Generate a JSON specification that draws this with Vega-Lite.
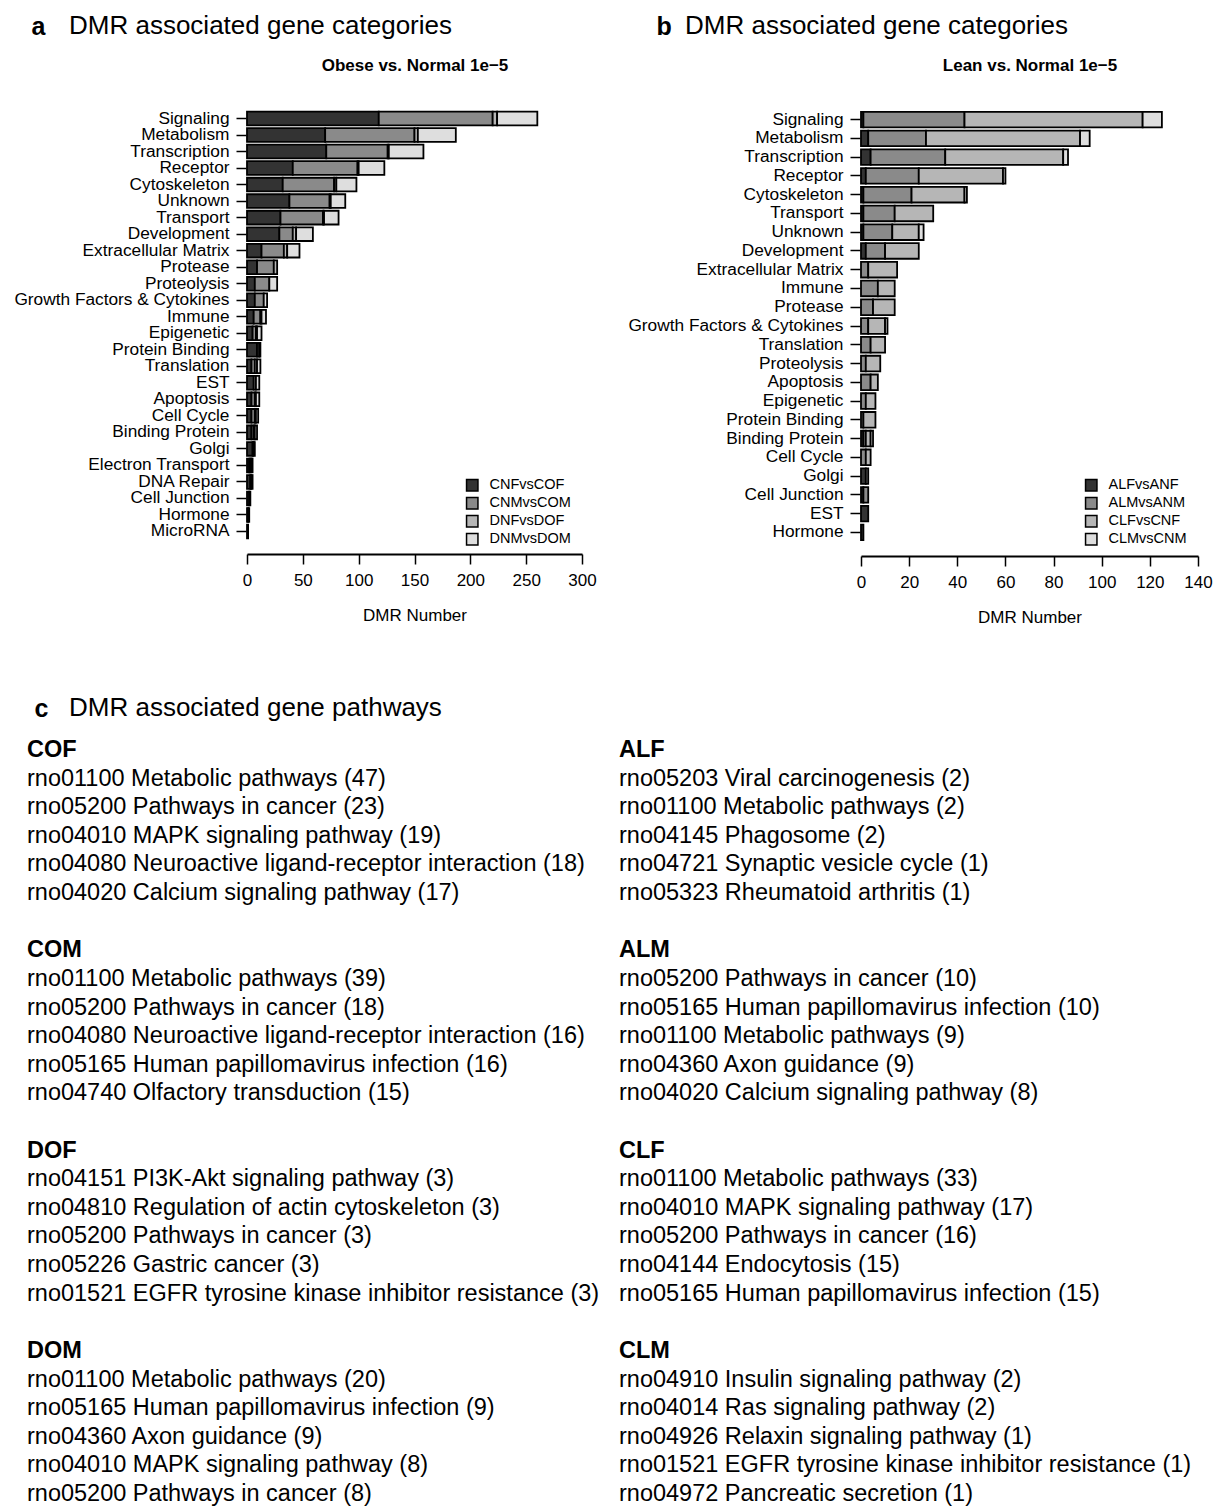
{
  "$schema": "https://vega.github.io/schema/vega-lite/v6.json",
  "background": "white",
  "padding": {"left": 13, "top": 13, "right": 0, "bottom": 0},
  "config": {
    "font": "Liberation Sans",
    "view": {"stroke": null},
    "axis": {"labelColor": "black", "titleColor": "black", "tickColor": "black", "domainColor": "black", "grid": false, "labelFont": "Liberation Sans", "titleFont": "Liberation Sans"},
    "title": {"color": "black", "font": "Liberation Sans"},
    "legend": {"labelColor": "black", "labelFont": "Liberation Sans"}
  },
  "datasets": {
    "obese": [
      {"category": "Signaling", "comparison": "CNFvsCOF", "n": 118},
      {"category": "Signaling", "comparison": "CNMvsCOM", "n": 102},
      {"category": "Signaling", "comparison": "DNFvsDOF", "n": 4},
      {"category": "Signaling", "comparison": "DNMvsDOM", "n": 36},
      {"category": "Metabolism", "comparison": "CNFvsCOF", "n": 70},
      {"category": "Metabolism", "comparison": "CNMvsCOM", "n": 80},
      {"category": "Metabolism", "comparison": "DNFvsDOF", "n": 3},
      {"category": "Metabolism", "comparison": "DNMvsDOM", "n": 34},
      {"category": "Transcription", "comparison": "CNFvsCOF", "n": 71},
      {"category": "Transcription", "comparison": "CNMvsCOM", "n": 55},
      {"category": "Transcription", "comparison": "DNFvsDOF", "n": 1},
      {"category": "Transcription", "comparison": "DNMvsDOM", "n": 31},
      {"category": "Receptor", "comparison": "CNFvsCOF", "n": 41},
      {"category": "Receptor", "comparison": "CNMvsCOM", "n": 58},
      {"category": "Receptor", "comparison": "DNFvsDOF", "n": 1},
      {"category": "Receptor", "comparison": "DNMvsDOM", "n": 23},
      {"category": "Cytoskeleton", "comparison": "CNFvsCOF", "n": 32},
      {"category": "Cytoskeleton", "comparison": "CNMvsCOM", "n": 46},
      {"category": "Cytoskeleton", "comparison": "DNFvsDOF", "n": 2},
      {"category": "Cytoskeleton", "comparison": "DNMvsDOM", "n": 18},
      {"category": "Unknown", "comparison": "CNFvsCOF", "n": 38},
      {"category": "Unknown", "comparison": "CNMvsCOM", "n": 36},
      {"category": "Unknown", "comparison": "DNFvsDOF", "n": 1},
      {"category": "Unknown", "comparison": "DNMvsDOM", "n": 13},
      {"category": "Transport", "comparison": "CNFvsCOF", "n": 30},
      {"category": "Transport", "comparison": "CNMvsCOM", "n": 38},
      {"category": "Transport", "comparison": "DNFvsDOF", "n": 1},
      {"category": "Transport", "comparison": "DNMvsDOM", "n": 13},
      {"category": "Development", "comparison": "CNFvsCOF", "n": 29},
      {"category": "Development", "comparison": "CNMvsCOM", "n": 12},
      {"category": "Development", "comparison": "DNFvsDOF", "n": 3},
      {"category": "Development", "comparison": "DNMvsDOM", "n": 15},
      {"category": "Extracellular Matrix", "comparison": "CNFvsCOF", "n": 13},
      {"category": "Extracellular Matrix", "comparison": "CNMvsCOM", "n": 20},
      {"category": "Extracellular Matrix", "comparison": "DNFvsDOF", "n": 3},
      {"category": "Extracellular Matrix", "comparison": "DNMvsDOM", "n": 11},
      {"category": "Protease", "comparison": "CNFvsCOF", "n": 9},
      {"category": "Protease", "comparison": "CNMvsCOM", "n": 15},
      {"category": "Protease", "comparison": "DNFvsDOF", "n": 3},
      {"category": "Proteolysis", "comparison": "CNFvsCOF", "n": 7},
      {"category": "Proteolysis", "comparison": "CNMvsCOM", "n": 13},
      {"category": "Proteolysis", "comparison": "DNMvsDOM", "n": 7},
      {"category": "Growth Factors & Cytokines", "comparison": "CNFvsCOF", "n": 7},
      {"category": "Growth Factors & Cytokines", "comparison": "CNMvsCOM", "n": 8},
      {"category": "Growth Factors & Cytokines", "comparison": "DNMvsDOM", "n": 3},
      {"category": "Immune", "comparison": "CNFvsCOF", "n": 6},
      {"category": "Immune", "comparison": "CNMvsCOM", "n": 6},
      {"category": "Immune", "comparison": "DNFvsDOF", "n": 1},
      {"category": "Immune", "comparison": "DNMvsDOM", "n": 4},
      {"category": "Epigenetic", "comparison": "CNFvsCOF", "n": 5},
      {"category": "Epigenetic", "comparison": "CNMvsCOM", "n": 3},
      {"category": "Epigenetic", "comparison": "DNFvsDOF", "n": 1},
      {"category": "Epigenetic", "comparison": "DNMvsDOM", "n": 4},
      {"category": "Protein Binding", "comparison": "CNFvsCOF", "n": 9},
      {"category": "Protein Binding", "comparison": "CNMvsCOM", "n": 2},
      {"category": "Protein Binding", "comparison": "DNMvsDOM", "n": 1},
      {"category": "Translation", "comparison": "CNFvsCOF", "n": 4},
      {"category": "Translation", "comparison": "CNMvsCOM", "n": 3},
      {"category": "Translation", "comparison": "DNFvsDOF", "n": 2},
      {"category": "Translation", "comparison": "DNMvsDOM", "n": 3},
      {"category": "EST", "comparison": "CNFvsCOF", "n": 6},
      {"category": "EST", "comparison": "CNMvsCOM", "n": 2},
      {"category": "EST", "comparison": "DNMvsDOM", "n": 3},
      {"category": "Apoptosis", "comparison": "CNFvsCOF", "n": 4},
      {"category": "Apoptosis", "comparison": "CNMvsCOM", "n": 3},
      {"category": "Apoptosis", "comparison": "DNFvsDOF", "n": 1},
      {"category": "Apoptosis", "comparison": "DNMvsDOM", "n": 3},
      {"category": "Cell Cycle", "comparison": "CNFvsCOF", "n": 4},
      {"category": "Cell Cycle", "comparison": "CNMvsCOM", "n": 3},
      {"category": "Cell Cycle", "comparison": "DNFvsDOF", "n": 1},
      {"category": "Cell Cycle", "comparison": "DNMvsDOM", "n": 2},
      {"category": "Binding Protein", "comparison": "CNFvsCOF", "n": 4},
      {"category": "Binding Protein", "comparison": "CNMvsCOM", "n": 2},
      {"category": "Binding Protein", "comparison": "DNFvsDOF", "n": 1},
      {"category": "Binding Protein", "comparison": "DNMvsDOM", "n": 2},
      {"category": "Golgi", "comparison": "CNFvsCOF", "n": 5},
      {"category": "Golgi", "comparison": "CNMvsCOM", "n": 1},
      {"category": "Golgi", "comparison": "DNMvsDOM", "n": 1},
      {"category": "Electron Transport", "comparison": "CNFvsCOF", "n": 2},
      {"category": "Electron Transport", "comparison": "CNMvsCOM", "n": 1},
      {"category": "Electron Transport", "comparison": "DNFvsDOF", "n": 1},
      {"category": "Electron Transport", "comparison": "DNMvsDOM", "n": 1},
      {"category": "DNA Repair", "comparison": "CNFvsCOF", "n": 3},
      {"category": "DNA Repair", "comparison": "CNMvsCOM", "n": 1},
      {"category": "DNA Repair", "comparison": "DNMvsDOM", "n": 1},
      {"category": "Cell Junction", "comparison": "CNFvsCOF", "n": 2},
      {"category": "Cell Junction", "comparison": "CNMvsCOM", "n": 1},
      {"category": "Hormone", "comparison": "CNFvsCOF", "n": 1},
      {"category": "Hormone", "comparison": "CNMvsCOM", "n": 1},
      {"category": "MicroRNA", "comparison": "CNFvsCOF", "n": 1}
    ],
    "lean": [
      {"category": "Signaling", "comparison": "ALFvsANF", "n": 1},
      {"category": "Signaling", "comparison": "ALMvsANM", "n": 42},
      {"category": "Signaling", "comparison": "CLFvsCNF", "n": 74},
      {"category": "Signaling", "comparison": "CLMvsCNM", "n": 8},
      {"category": "Metabolism", "comparison": "ALFvsANF", "n": 3},
      {"category": "Metabolism", "comparison": "ALMvsANM", "n": 24},
      {"category": "Metabolism", "comparison": "CLFvsCNF", "n": 64},
      {"category": "Metabolism", "comparison": "CLMvsCNM", "n": 4},
      {"category": "Transcription", "comparison": "ALFvsANF", "n": 4},
      {"category": "Transcription", "comparison": "ALMvsANM", "n": 31},
      {"category": "Transcription", "comparison": "CLFvsCNF", "n": 49},
      {"category": "Transcription", "comparison": "CLMvsCNM", "n": 2},
      {"category": "Receptor", "comparison": "ALFvsANF", "n": 2},
      {"category": "Receptor", "comparison": "ALMvsANM", "n": 22},
      {"category": "Receptor", "comparison": "CLFvsCNF", "n": 35},
      {"category": "Receptor", "comparison": "CLMvsCNM", "n": 1},
      {"category": "Cytoskeleton", "comparison": "ALFvsANF", "n": 1},
      {"category": "Cytoskeleton", "comparison": "ALMvsANM", "n": 20},
      {"category": "Cytoskeleton", "comparison": "CLFvsCNF", "n": 22},
      {"category": "Cytoskeleton", "comparison": "CLMvsCNM", "n": 1},
      {"category": "Transport", "comparison": "ALFvsANF", "n": 1},
      {"category": "Transport", "comparison": "ALMvsANM", "n": 13},
      {"category": "Transport", "comparison": "CLFvsCNF", "n": 16},
      {"category": "Unknown", "comparison": "ALFvsANF", "n": 1},
      {"category": "Unknown", "comparison": "ALMvsANM", "n": 12},
      {"category": "Unknown", "comparison": "CLFvsCNF", "n": 11},
      {"category": "Unknown", "comparison": "CLMvsCNM", "n": 2},
      {"category": "Development", "comparison": "ALFvsANF", "n": 2},
      {"category": "Development", "comparison": "ALMvsANM", "n": 8},
      {"category": "Development", "comparison": "CLFvsCNF", "n": 14},
      {"category": "Extracellular Matrix", "comparison": "ALMvsANM", "n": 3},
      {"category": "Extracellular Matrix", "comparison": "CLFvsCNF", "n": 12},
      {"category": "Immune", "comparison": "ALMvsANM", "n": 7},
      {"category": "Immune", "comparison": "CLFvsCNF", "n": 7},
      {"category": "Protease", "comparison": "ALMvsANM", "n": 5},
      {"category": "Protease", "comparison": "CLFvsCNF", "n": 9},
      {"category": "Growth Factors & Cytokines", "comparison": "ALMvsANM", "n": 3},
      {"category": "Growth Factors & Cytokines", "comparison": "CLFvsCNF", "n": 7},
      {"category": "Growth Factors & Cytokines", "comparison": "CLMvsCNM", "n": 1},
      {"category": "Translation", "comparison": "ALMvsANM", "n": 4},
      {"category": "Translation", "comparison": "CLFvsCNF", "n": 6},
      {"category": "Proteolysis", "comparison": "ALMvsANM", "n": 2},
      {"category": "Proteolysis", "comparison": "CLFvsCNF", "n": 6},
      {"category": "Apoptosis", "comparison": "ALMvsANM", "n": 4},
      {"category": "Apoptosis", "comparison": "CLFvsCNF", "n": 3},
      {"category": "Epigenetic", "comparison": "ALMvsANM", "n": 2},
      {"category": "Epigenetic", "comparison": "CLFvsCNF", "n": 4},
      {"category": "Protein Binding", "comparison": "ALMvsANM", "n": 1},
      {"category": "Protein Binding", "comparison": "CLFvsCNF", "n": 5},
      {"category": "Binding Protein", "comparison": "ALFvsANF", "n": 1},
      {"category": "Binding Protein", "comparison": "ALMvsANM", "n": 1},
      {"category": "Binding Protein", "comparison": "CLFvsCNF", "n": 2},
      {"category": "Binding Protein", "comparison": "CLMvsCNM", "n": 1},
      {"category": "Cell Cycle", "comparison": "ALMvsANM", "n": 2},
      {"category": "Cell Cycle", "comparison": "CLFvsCNF", "n": 2},
      {"category": "Golgi", "comparison": "ALFvsANF", "n": 2},
      {"category": "Golgi", "comparison": "ALMvsANM", "n": 1},
      {"category": "Cell Junction", "comparison": "ALFvsANF", "n": 1},
      {"category": "Cell Junction", "comparison": "ALMvsANM", "n": 2},
      {"category": "EST", "comparison": "ALFvsANF", "n": 3},
      {"category": "Hormone", "comparison": "ALFvsANF", "n": 1}
    ],
    "pathways": [
      {"side": "left", "line": 0, "kind": "head", "label": "COF"},
      {"side": "left", "line": 1, "kind": "item", "label": "rno01100 Metabolic pathways (47)"},
      {"side": "left", "line": 2, "kind": "item", "label": "rno05200 Pathways in cancer (23)"},
      {"side": "left", "line": 3, "kind": "item", "label": "rno04010 MAPK signaling pathway (19)"},
      {"side": "left", "line": 4, "kind": "item", "label": "rno04080 Neuroactive ligand-receptor interaction (18)"},
      {"side": "left", "line": 5, "kind": "item", "label": "rno04020 Calcium signaling pathway (17)"},
      {"side": "left", "line": 7, "kind": "head", "label": "COM"},
      {"side": "left", "line": 8, "kind": "item", "label": "rno01100 Metabolic pathways (39)"},
      {"side": "left", "line": 9, "kind": "item", "label": "rno05200 Pathways in cancer (18)"},
      {"side": "left", "line": 10, "kind": "item", "label": "rno04080 Neuroactive ligand-receptor interaction (16)"},
      {"side": "left", "line": 11, "kind": "item", "label": "rno05165 Human papillomavirus infection (16)"},
      {"side": "left", "line": 12, "kind": "item", "label": "rno04740 Olfactory transduction (15)"},
      {"side": "left", "line": 14, "kind": "head", "label": "DOF"},
      {"side": "left", "line": 15, "kind": "item", "label": "rno04151 PI3K-Akt signaling pathway (3)"},
      {"side": "left", "line": 16, "kind": "item", "label": "rno04810 Regulation of actin cytoskeleton (3)"},
      {"side": "left", "line": 17, "kind": "item", "label": "rno05200 Pathways in cancer (3)"},
      {"side": "left", "line": 18, "kind": "item", "label": "rno05226 Gastric cancer (3)"},
      {"side": "left", "line": 19, "kind": "item", "label": "rno01521 EGFR tyrosine kinase inhibitor resistance (3)"},
      {"side": "left", "line": 21, "kind": "head", "label": "DOM"},
      {"side": "left", "line": 22, "kind": "item", "label": "rno01100 Metabolic pathways (20)"},
      {"side": "left", "line": 23, "kind": "item", "label": "rno05165 Human papillomavirus infection (9)"},
      {"side": "left", "line": 24, "kind": "item", "label": "rno04360 Axon guidance (9)"},
      {"side": "left", "line": 25, "kind": "item", "label": "rno04010 MAPK signaling pathway (8)"},
      {"side": "left", "line": 26, "kind": "item", "label": "rno05200 Pathways in cancer (8)"},
      {"side": "right", "line": 0, "kind": "head", "label": "ALF"},
      {"side": "right", "line": 1, "kind": "item", "label": "rno05203 Viral carcinogenesis (2)"},
      {"side": "right", "line": 2, "kind": "item", "label": "rno01100 Metabolic pathways (2)"},
      {"side": "right", "line": 3, "kind": "item", "label": "rno04145 Phagosome (2)"},
      {"side": "right", "line": 4, "kind": "item", "label": "rno04721 Synaptic vesicle cycle (1)"},
      {"side": "right", "line": 5, "kind": "item", "label": "rno05323 Rheumatoid arthritis (1)"},
      {"side": "right", "line": 7, "kind": "head", "label": "ALM"},
      {"side": "right", "line": 8, "kind": "item", "label": "rno05200 Pathways in cancer (10)"},
      {"side": "right", "line": 9, "kind": "item", "label": "rno05165 Human papillomavirus infection (10)"},
      {"side": "right", "line": 10, "kind": "item", "label": "rno01100 Metabolic pathways (9)"},
      {"side": "right", "line": 11, "kind": "item", "label": "rno04360 Axon guidance (9)"},
      {"side": "right", "line": 12, "kind": "item", "label": "rno04020 Calcium signaling pathway (8)"},
      {"side": "right", "line": 14, "kind": "head", "label": "CLF"},
      {"side": "right", "line": 15, "kind": "item", "label": "rno01100 Metabolic pathways (33)"},
      {"side": "right", "line": 16, "kind": "item", "label": "rno04010 MAPK signaling pathway (17)"},
      {"side": "right", "line": 17, "kind": "item", "label": "rno05200 Pathways in cancer (16)"},
      {"side": "right", "line": 18, "kind": "item", "label": "rno04144 Endocytosis (15)"},
      {"side": "right", "line": 19, "kind": "item", "label": "rno05165 Human papillomavirus infection (15)"},
      {"side": "right", "line": 21, "kind": "head", "label": "CLM"},
      {"side": "right", "line": 22, "kind": "item", "label": "rno04910 Insulin signaling pathway (2)"},
      {"side": "right", "line": 23, "kind": "item", "label": "rno04014 Ras signaling pathway (2)"},
      {"side": "right", "line": 24, "kind": "item", "label": "rno04926 Relaxin signaling pathway (1)"},
      {"side": "right", "line": 25, "kind": "item", "label": "rno01521 EGFR tyrosine kinase inhibitor resistance (1)"},
      {"side": "right", "line": 26, "kind": "item", "label": "rno04972 Pancreatic secretion (1)"}
    ]
  },
  "vconcat": [
    {
      "hconcat": [
        {
          "width": 335,
          "height": 430,
          "title": {"text": "DMR associated gene categories", "anchor": "start", "frame": "group", "dx": -178, "fontSize": 26, "fontWeight": "normal", "baseline": "alphabetic", "offset": -46},
          "layer": [
            {
              "data": {"name": "obese"},
              "mark": {"type": "bar", "stroke": "black", "strokeWidth": 1.8},
              "encoding": {
                "y": {"field": "category", "type": "nominal", "sort": null,
                  "scale": {"paddingInner": 0.17, "paddingOuter": 0.1},
                  "axis": {"title": "a", "titleAngle": 0, "titleX": -215, "titleY": -76, "titleAlign": "left", "titleBaseline": "alphabetic", "titleFontSize": 25, "titleFontWeight": "bold", "labelFontSize": 17.3, "labelLimit": 400, "labelPadding": 7, "tickSize": 10, "tickWidth": 1.5, "domain": false, "offset": 1}},
                "x": {"field": "n", "type": "quantitative", "stack": "zero",
                  "scale": {"domain": [0, 300], "nice": false},
                  "axis": {"values": [0, 50, 100, 150, 200, 250, 300], "labelFlush": false, "title": "DMR Number", "titleFontSize": 17, "titleFontWeight": "normal", "titlePadding": 19, "labelFontSize": 17, "labelPadding": 8, "tickSize": 10, "tickWidth": 1.5, "domainWidth": 1.8, "offset": 14, "grid": false}},
                "color": {"field": "comparison", "type": "nominal",
                  "scale": {"domain": ["CNFvsCOF", "CNMvsCOM", "DNFvsDOF", "DNMvsDOM"], "range": ["#333333", "#8a8a8a", "#b6b6b6", "#dedede"]},
                  "legend": {"orient": "none", "legendX": 218, "legendY": 368, "title": null, "symbolType": "square", "symbolSize": 130, "symbolStrokeColor": "black", "symbolStrokeWidth": 1.5, "labelFontSize": 14.5, "labelOffset": 10, "rowPadding": 0}}
              }
            },
            {
              "data": {"values": [{}]},
              "mark": {"type": "rule", "opacity": 0},
              "encoding": {
                "x": {"datum": 0, "type": "quantitative",
                  "axis": {"orient": "top", "title": "Obese vs. Normal 1e−5", "titleFontSize": 17, "titleFontWeight": "bold", "titleY": -40, "titleBaseline": "alphabetic", "labels": false, "ticks": false, "domain": false, "grid": false}}
              }
            }
          ],
          "resolve": {"axis": {"x": "independent"}}
        },
        {
          "width": 337,
          "height": 432,
          "title": {"text": "DMR associated gene categories", "anchor": "start", "frame": "group", "dx": -176, "fontSize": 26, "fontWeight": "normal", "baseline": "alphabetic", "offset": -46},
          "layer": [
            {
              "data": {"name": "lean"},
              "mark": {"type": "bar", "stroke": "black", "strokeWidth": 1.8},
              "encoding": {
                "y": {"field": "category", "type": "nominal", "sort": null,
                  "scale": {"paddingInner": 0.17, "paddingOuter": 0.1},
                  "axis": {"title": "b", "titleAngle": 0, "titleX": -204, "titleY": -76, "titleAlign": "left", "titleBaseline": "alphabetic", "titleFontSize": 25, "titleFontWeight": "bold", "labelFontSize": 17.3, "labelLimit": 400, "labelPadding": 7, "tickSize": 10, "tickWidth": 1.5, "domain": false, "offset": 1}},
                "x": {"field": "n", "type": "quantitative", "stack": "zero",
                  "scale": {"domain": [0, 140], "nice": false},
                  "axis": {"values": [0, 20, 40, 60, 80, 100, 120, 140], "labelFlush": false, "title": "DMR Number", "titleFontSize": 17, "titleFontWeight": "normal", "titlePadding": 19, "labelFontSize": 17, "labelPadding": 8, "tickSize": 10, "tickWidth": 1.5, "domainWidth": 1.8, "offset": 14, "grid": false}},
                "color": {"field": "comparison", "type": "nominal",
                  "scale": {"domain": ["ALFvsANF", "ALMvsANM", "CLFvsCNF", "CLMvsCNM"], "range": ["#333333", "#8a8a8a", "#b6b6b6", "#dedede"]},
                  "legend": {"orient": "none", "legendX": 223, "legendY": 368, "title": null, "symbolType": "square", "symbolSize": 130, "symbolStrokeColor": "black", "symbolStrokeWidth": 1.5, "labelFontSize": 14.5, "labelOffset": 10, "rowPadding": 0}}
              }
            },
            {
              "data": {"values": [{}]},
              "mark": {"type": "rule", "opacity": 0},
              "encoding": {
                "x": {"datum": 0, "type": "quantitative",
                  "axis": {"orient": "top", "title": "Lean vs. Normal 1e−5", "titleFontSize": 17, "titleFontWeight": "bold", "titleY": -40, "titleBaseline": "alphabetic", "labels": false, "ticks": false, "domain": false, "grid": false}}
              }
            }
          ],
          "resolve": {"axis": {"x": "independent"}}
        }
      ],
      "spacing": 30,
      "resolve": {"scale": {"color": "independent"}, "legend": {"color": "independent"}}
    },
    {
      "width": 592,
      "height": 744,
      "data": {"name": "pathways"},
      "title": {"text": "DMR associated gene pathways", "anchor": "start", "frame": "group", "dx": -178, "fontSize": 26, "fontWeight": "normal", "baseline": "alphabetic", "offset": -46},
      "encoding": {
        "x": {"field": "side", "type": "nominal", "scale": {"type": "point", "domain": ["left", "right"], "range": [-220, 372], "padding": 0}, "axis": null},
        "y": {"field": "line", "type": "quantitative", "scale": {"domain": [0, 26], "reverse": true, "nice": false, "zero": false},
          "axis": {"title": "c", "titleAngle": 0, "titleX": -213, "titleY": -34, "titleAlign": "left", "titleBaseline": "alphabetic", "titleFontSize": 25, "titleFontWeight": "bold", "labels": false, "ticks": false, "domain": false, "grid": false}},
        "text": {"field": "label", "type": "nominal"}
      },
      "layer": [
        {"transform": [{"filter": "datum.kind === 'head'"}], "mark": {"type": "text", "align": "left", "baseline": "middle", "fontSize": 23.5, "fontWeight": "bold", "color": "black"}},
        {"transform": [{"filter": "datum.kind === 'item'"}], "mark": {"type": "text", "align": "left", "baseline": "middle", "fontSize": 23.5, "color": "black"}}
      ]
    }
  ],
  "spacing": 70
}
